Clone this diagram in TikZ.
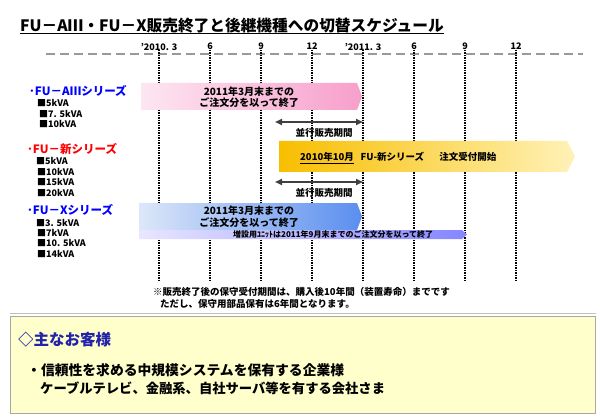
\documentclass[tikz,border=0pt]{standalone}
\usepackage{fontspec}
\setmainfont{Noto Sans CJK JP}
\usetikzlibrary{arrows.meta}
\definecolor{pinkL}{HTML}{FDE6F1}
\definecolor{pinkR}{HTML}{F79FCB}
\definecolor{yelL}{HTML}{F8BE00}
\definecolor{yelR}{HTML}{FFF2B8}
\definecolor{bluL}{HTML}{DCE7F9}
\definecolor{bluR}{HTML}{5A8EEF}
\definecolor{lavL}{HTML}{E9E6FF}
\definecolor{lavR}{HTML}{8585FF}
\definecolor{boxfill}{HTML}{FFFFCC}
\definecolor{boxline}{HTML}{A8A8A8}
\definecolor{serblue}{HTML}{0000FF}
\definecolor{serred}{HTML}{FF0000}
\definecolor{custblue}{HTML}{2222AA}
\begin{document}
\begin{tikzpicture}[x=1pt,y=-1pt,
  txt/.style={inner sep=0pt, font=\bfseries\fontsize{#1}{#1}\selectfont},
  txt/.default=9.5,
  series/.style={inner sep=0pt, anchor=west, font=\bfseries\fontsize{11.5}{11.5}\selectfont},
  item/.style={inner sep=0pt, anchor=west, font=\bfseries\fontsize{9}{9}\selectfont},
  dotline/.style={line width=1.3pt, dash pattern=on 1.3pt off 1.2pt},
  parallel/.style={{Triangle[length=7pt,width=6pt]}-{Triangle[length=7pt,width=6pt]}, line width=2.4pt, draw=black!75},
]
\useasboundingbox (0,0) rectangle (600,417);
\fill[white] (0,0) rectangle (600,417);

% title
\node[txt=15.7, anchor=base west] (title) at (20,31.5) {FU－AⅢ・FU－X販売終了と後継機種への切替スケジュール};
\draw[line width=1.3pt] ([yshift=-2pt]title.base west) -- ([yshift=-2pt]title.base east);

% header dashed line
\coordinate (hl) at (46,54);
\coordinate (hr) at (583,54);
\draw[black!40, line width=1.8pt, dash pattern=on 9pt off 5pt] (hl) -- (hr);

% ticks
\foreach \x/\t [count=\i] in {159/'2010. 3, 210/6, 261/9, 312/12, 363/'2011. 3, 414/6, 465/9, 516/12}{
  \node[txt=9] (t\i) at (\x,46.5) {\t};
  \coordinate (d\i) at (\x,281);
  \draw[dotline] (\x,50) -- (d\i);
}

% series labels
\node[series, text=serblue] (sa) at (29,91) {･FU－AⅢシリーズ};
\node[item] (sa1) at (37,103) {■5kVA};
\node[item] (sa2) at (39,113.5) {■7. 5kVA};
\node[item] (sa3) at (39,124) {■10kVA};

\node[series, text=serred] (sn) at (27,149) {･FU－新シリーズ};
\node[item] (sn1) at (36,161) {■5kVA};
\node[item] (sn2) at (37,171.5) {■10kVA};
\node[item] (sn3) at (37,182) {■15kVA};
\node[item] (sn4) at (37,192.5) {■20kVA};

\node[series, text=serblue] (sx) at (27,210) {･FU－Xシリーズ};
\node[item] (sx1) at (36,222.5) {■3. 5kVA};
\node[item] (sx2) at (37,232.5) {■7kVA};
\node[item] (sx3) at (37,243) {■10. 5kVA};
\node[item] (sx4) at (37,253.5) {■14kVA};

% pink bar
\shade[left color=pinkL, right color=pinkR] (141,83) -- (357,83) -- (362,96.5) -- (357,110) -- (141,110) -- cycle;
\node[txt=10, align=center] (pinktext) at (249,97) {2011年3月末までの\\[1.5pt]ご注文分を以って終了};

% parallel arrow 1
\coordinate (p1a) at (275,122);
\coordinate (p1b) at (363,122);
\draw[parallel] (p1a) -- (p1b);
\node[txt=9.5] (p1t) at (324,132.5) {並行販売期間};

% yellow bar
\shade[left color=yelL, right color=yelR] (279,141) -- (567,141) -- (575,156.5) -- (567,172) -- (279,172) -- cycle;
\node[txt=9.5, anchor=west] (ytext) at (300,158) {\underline{2010年10月}\hspace{0.7em}FU-新シリーズ\hspace{1.6em}注文受付開始};

% parallel arrow 2
\coordinate (p2a) at (275,182);
\coordinate (p2b) at (363,182);
\draw[parallel] (p2a) -- (p2b);
\node[txt=9.5] (p2t) at (324,192.5) {並行販売期間};

% blue bar
\shade[left color=bluL, right color=bluR] (139,203) -- (357,203) -- (362,216.5) -- (357,230) -- (139,230) -- cycle;
\node[txt=10, align=center] (bluetext) at (249,216.5) {2011年3月末までの\\[1.5pt]ご注文分を以って終了};

% lavender bar
\shade[left color=lavL, right color=lavR] (139,230) -- (462,230) -- (467,234.5) -- (462,239) -- (139,239) -- cycle;
\node[txt=8, anchor=west] (lavtext) at (233,234.7) {増設用ﾕﾆｯﾄは2011年9月末までのご注文分を以って終了};

% footnote
\node[txt=9.5, anchor=west] (note1) at (153,292) {※販売終了後の保守受付期間は、購入後10年間（装置寿命）までです};
\node[txt=9.5, anchor=west] (note2) at (160,303.5) {ただし、保守用部品保有は6年間となります。};

% separator
\coordinate (sl) at (10,313.5);
\coordinate (sr) at (596,313.5);
\draw[black!25, line width=1.5pt] (sl) -- (sr);

% customer box
\node[draw=boxline, fill=boxfill, line width=1.3pt, minimum width=585pt, minimum height=97pt, inner sep=0pt, anchor=north west] (custbox) at (9.5,316) {};
\node[txt=15.5, anchor=west, text=custblue] (custhead) at (18,340) {◇主なお客様};
\node[txt=13.8, anchor=west] (cust1) at (27,370.5) {・信頼性を求める中規模システムを保有する企業様};
\node[txt=13.3, anchor=west] (cust2) at (40,388.5) {ケーブルテレビ、金融系、自社サーバ等を有する会社さま};
\end{tikzpicture}
\end{document}
